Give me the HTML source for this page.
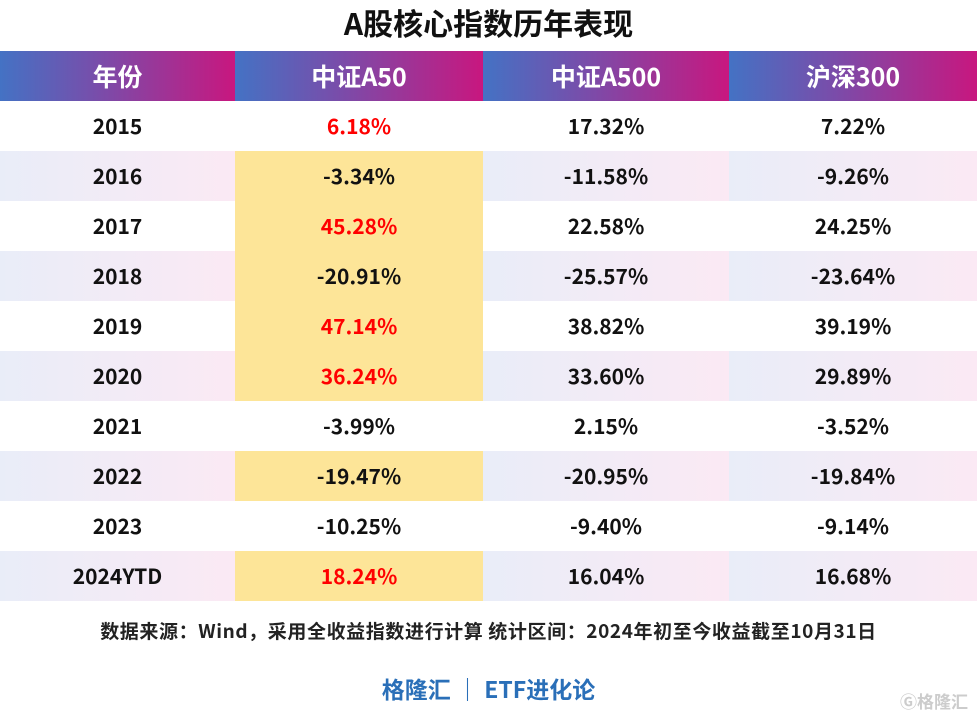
<!DOCTYPE html>
<html><head><meta charset="utf-8"><style>
body{margin:0;width:977px;height:718px;background:#fff;font-family:"Noto Sans CJK SC","Liberation Sans",sans-serif;position:relative;overflow:hidden}
.t{position:absolute;left:0;width:977px;text-align:center}
table{position:absolute;left:0;top:51px;border-collapse:collapse;table-layout:fixed;width:977px}
td{height:50px;padding:0;text-align:center;font-size:21px;color:#111;font-weight:bold;font-family:"Noto Sans CJK SC",sans-serif}
th{height:50px;padding:0;color:#fff;font-size:25px;font-weight:bold;background:linear-gradient(90deg,#4472c4,#7d4aa8 45%,#c8177f)}
tr.e td{background:linear-gradient(90deg,#e9edf8,#fbe9f4)}
td.y{background:#fde598 !important}
.r{color:#f00}
</style></head><body>
<div class="t" style="top:0px;font-size:30px;font-weight:bold;color:#111">A股核心指数历年表现</div>
<table>
<colgroup><col style="width:235px"><col style="width:248px"><col style="width:246px"><col style="width:248px"></colgroup>
<tr><th>年份</th><th>中证A50</th><th>中证A500</th><th>沪深300</th></tr>
<tr><td>2015</td><td class="r">6.18%</td><td>17.32%</td><td>7.22%</td></tr>
<tr class="e"><td>2016</td><td class="y">-3.34%</td><td>-11.58%</td><td>-9.26%</td></tr>
<tr><td>2017</td><td class="y r">45.28%</td><td>22.58%</td><td>24.25%</td></tr>
<tr class="e"><td>2018</td><td class="y">-20.91%</td><td>-25.57%</td><td>-23.64%</td></tr>
<tr><td>2019</td><td class="y r">47.14%</td><td>38.82%</td><td>39.19%</td></tr>
<tr class="e"><td>2020</td><td class="y r">36.24%</td><td>33.60%</td><td>29.89%</td></tr>
<tr><td>2021</td><td>-3.99%</td><td>2.15%</td><td>-3.52%</td></tr>
<tr class="e"><td>2022</td><td class="y">-19.47%</td><td>-20.95%</td><td>-19.84%</td></tr>
<tr><td>2023</td><td>-10.25%</td><td>-9.40%</td><td>-9.14%</td></tr>
<tr class="e"><td>2024YTD</td><td class="y r">18.24%</td><td>16.04%</td><td>16.68%</td></tr>
</table>
<div class="t" style="top:617px;font-size:19px;letter-spacing:0.6px;font-weight:bold;color:#222">数据来源：Wind，采用全收益指数进行计算 统计区间：2024年初至今收益截至10月31日</div>
<div class="t" style="top:671px;font-size:23px;font-weight:bold;color:#2a6fb8">格隆汇 ｜ ETF进化论</div>
<div style="position:absolute;left:900px;top:688px;font-size:17px;color:#ccc;font-weight:bold">Ⓖ格隆汇</div>
</body></html>
